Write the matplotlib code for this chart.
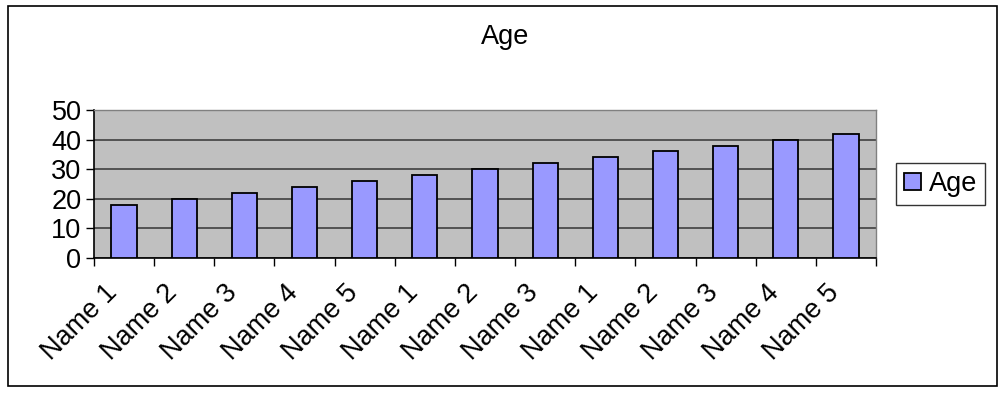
import matplotlib.pyplot as plt
from matplotlib.patches import Rectangle
from matplotlib.transforms import ScaledTranslation
import numpy as np

plt.rcParams['font.family'] = ['Liberation Sans', 'DejaVu Sans']

names = ['Name 1', 'Name 2', 'Name 3', 'Name 4', 'Name 5', 'Name 1', 'Name 2',
         'Name 3', 'Name 1', 'Name 2', 'Name 3', 'Name 4', 'Name 5']
ages = [18, 20, 22, 24, 26, 28, 30, 32, 34, 36, 38, 40, 42]

fig = plt.figure(figsize=(10.04, 3.94), dpi=100)
fig.patches.append(Rectangle((0.008, 0.02), 0.985, 0.965, transform=fig.transFigure,
                             fill=False, edgecolor='black', linewidth=1.2))

ax = fig.add_axes([0.0936, 0.345, 0.7789, 0.3758])
ax.set_facecolor('#C0C0C0')
x = np.arange(len(ages))
ax.bar(x, ages, width=0.42, color='#9999FF', edgecolor='black', linewidth=1.3,
       label='Age', zorder=3)
ax.set_xlim(-0.5, len(ages) - 0.5)
ax.set_ylim(0, 50)
ax.set_yticks(range(0, 51, 10))
ax.yaxis.grid(True, color='#404040', linewidth=1.2, zorder=0)
ax.set_axisbelow(True)

ax.set_xticks(np.arange(-0.5, len(ages), 1), minor=False)
ax.set_xticklabels([])
ax.set_xticks(x, minor=True)
ax.set_xticklabels(names, minor=True, rotation=45, ha='right', rotation_mode='anchor',
                   fontsize=19.5)
ax.tick_params(axis='x', which='minor', length=0, pad=14)
ax.tick_params(axis='x', which='major', length=6, width=1, direction='out')
ax.tick_params(axis='y', length=6, width=1, direction='out', labelsize=19.5, pad=3)
shift = ScaledTranslation(-0.2, -0.02, fig.dpi_scale_trans)
for lab in ax.get_xticklabels(minor=True):
    lab.set_transform(lab.get_transform() + shift)

for s in ['left', 'bottom']:
    ax.spines[s].set_color('black')
    ax.spines[s].set_linewidth(1.2)
for s in ['top', 'right']:
    ax.spines[s].set_color('#808080')
    ax.spines[s].set_linewidth(1.0)

fig.text(0.503, 0.905, 'Age', ha='center', va='center', fontsize=19.5)

leg = ax.legend(loc='center left', bbox_to_anchor=(1.026, 0.5), fontsize=19.5,
                frameon=True, fancybox=False, handlelength=0.6, handleheight=0.6,
                handletextpad=0.3, borderpad=0.3, borderaxespad=0)
leg.get_frame().set_edgecolor('black')
leg.get_frame().set_linewidth(1.0)

fig.savefig('out.png', dpi=100)
